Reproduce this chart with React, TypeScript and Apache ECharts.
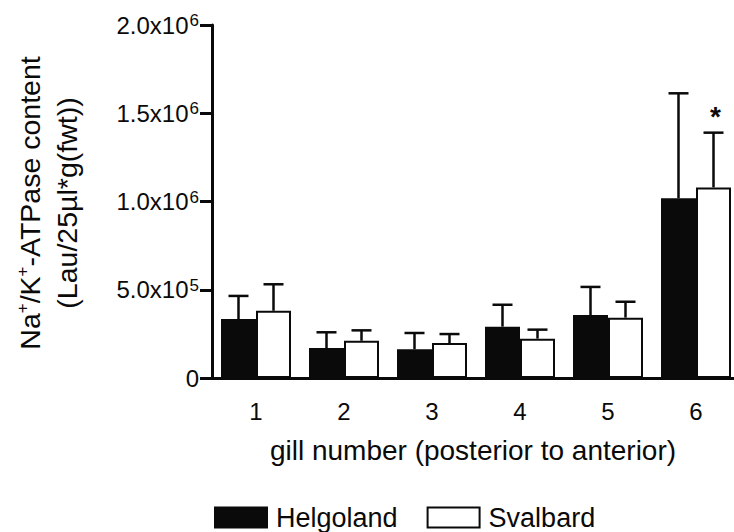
import React, { useEffect, useRef } from "react";
import * as echarts from "echarts";

const categories = ["1", "2", "3", "4", "5", "6"];
const helgoland = [334000, 170000, 163000, 291000, 357000, 1018000];
const helgolandErr = [131000, 89000, 92000, 124000, 159000, 595000];
const svalbard = [381000, 211000, 198000, 223000, 342000, 1080000];
const svalbardErr = [150000, 59000, 51000, 51000, 90000, 310000];
const svalbardSig = ["", "", "", "", "", "*"];
const seriesNames = ["Helgoland", "Svalbard"];
const xTitle = "gill number (posterior to anterior)";
const yTitleLine1 = "{a|Na}{s|+}{a|/K}{s|+}{a|-ATPase content}";
const yTitleLine2 = "{a|(Lau/25µl*g(fwt))}";

const FONT = "'Liberation Sans', Arial, sans-serif";
const INK = "#0a0a0a";

function fmtY(v: number): string {
  if (v === 0) return "{b|0}";
  const e = Math.floor(Math.log10(v) + 1e-9);
  const m = v / Math.pow(10, e);
  return `{b|${m.toFixed(1)}x10}{s|${e}}`;
}

function errSeries(name: string, means: number[], errs: number[], offset: number, sig: string[] | null) {
  return {
    type: "custom",
    name,
    z: 5,
    data: means.map((m, i) => [i, m, errs[i]]),
    renderItem: (params: any, api: any) => {
      const i = api.value(0);
      const mean = api.value(1);
      const err = api.value(2);
      const base = api.coord([i, mean]);
      const top = api.coord([i, mean + err]);
      const x = base[0] + offset;
      const children: any[] = [
        {
          type: "line",
          shape: { x1: x, y1: base[1], x2: x, y2: top[1] },
          style: { stroke: INK, lineWidth: 2.5 },
        },
        {
          type: "line",
          shape: { x1: x - 10, y1: top[1], x2: x + 10, y2: top[1] },
          style: { stroke: INK, lineWidth: 2.5 },
        },
      ];
      if (sig && sig[params.dataIndex]) {
        children.push({
          type: "text",
          x: x + 2,
          y: top[1] - 16,
          style: {
            text: sig[params.dataIndex],
            fill: INK,
            font: `bold 28px ${FONT}`,
            align: "center",
            verticalAlign: "middle",
          },
        });
      }
      return { type: "group", children };
    },
  };
}

export default function App() {
  const ref = useRef<HTMLDivElement>(null);
  useEffect(() => {
    if (!ref.current) return;
    const chart = echarts.init(ref.current, null, { renderer: "svg" });
    chart.setOption({
      animation: false,
      backgroundColor: "#ffffff",
      textStyle: { fontFamily: FONT, color: INK },
      grid: { left: 212, right: 0, top: 25, bottom: 154 },
      legend: {
        data: seriesNames,
        left: 214,
        top: 504,
        padding: 0,
        icon: "rect",
        itemWidth: 52,
        itemHeight: 20,
        itemGap: 29,
        textStyle: { fontSize: 27, color: INK, fontFamily: FONT, padding: [0, 0, 0, 4] },
      },
      xAxis: {
        type: "category",
        data: categories,
        axisTick: { show: false },
        axisLine: { lineStyle: { color: INK, width: 3 } },
        axisLabel: { fontSize: 24, color: INK, margin: 21, fontFamily: FONT },
        name: xTitle,
        nameLocation: "middle",
        nameGap: 58,
        nameTextStyle: { fontSize: 28, color: INK, fontFamily: FONT, padding: [0, 6, 0, 0] },
      },
      yAxis: {
        type: "value",
        min: 0,
        max: 2000000,
        interval: 500000,
        splitLine: { show: false },
        axisLine: { show: true, lineStyle: { color: INK, width: 3 } },
        axisTick: { show: true, length: 12, lineStyle: { color: INK, width: 3 } },
        axisLabel: {
          margin: 13,
          formatter: fmtY,
          rich: {
            b: { fontSize: 24, color: INK, fontFamily: FONT, lineHeight: 26 },
            s: { fontSize: 17, color: INK, fontFamily: FONT, verticalAlign: "top", lineHeight: 26, padding: [0, 0, 10, 1] },
          },
        },
      },
      graphic: [
        {
          type: "text",
          x: 48,
          y: 203,
          rotation: Math.PI / 2,
          style: {
            text: yTitleLine1 + "\n" + yTitleLine2,
            align: "center",
            verticalAlign: "middle",
            fill: INK,
            rich: {
              a: { fontSize: 28.5, fontFamily: FONT, fill: INK, lineHeight: 37 },
              s: { fontSize: 17, fontFamily: FONT, fill: INK, lineHeight: 37, padding: [0, 0, 14, 0] },
            },
          },
        },
      ],
      series: [
        {
          type: "bar",
          name: seriesNames[0],
          data: helgoland,
          barWidth: 35,
          barGap: "0%",
          itemStyle: { color: INK, borderColor: INK, borderWidth: 2 },
        },
        {
          type: "bar",
          name: seriesNames[1],
          data: svalbard,
          barWidth: 35,
          barGap: "0%",
          itemStyle: { color: "#ffffff", borderColor: INK, borderWidth: 2 },
        },
        errSeries("errH", helgoland, helgolandErr, -17.5, null),
        errSeries("errS", svalbard, svalbardErr, 17.5, svalbardSig),
      ],
    });
    return () => chart.dispose();
  }, []);
  return (
    <div style={{ position: "absolute", left: 0, top: 0, width: 734, height: 532, overflow: "hidden", background: "#fff" }}>
      <div ref={ref} style={{ width: 740, height: 532 }} />
    </div>
  );
}
